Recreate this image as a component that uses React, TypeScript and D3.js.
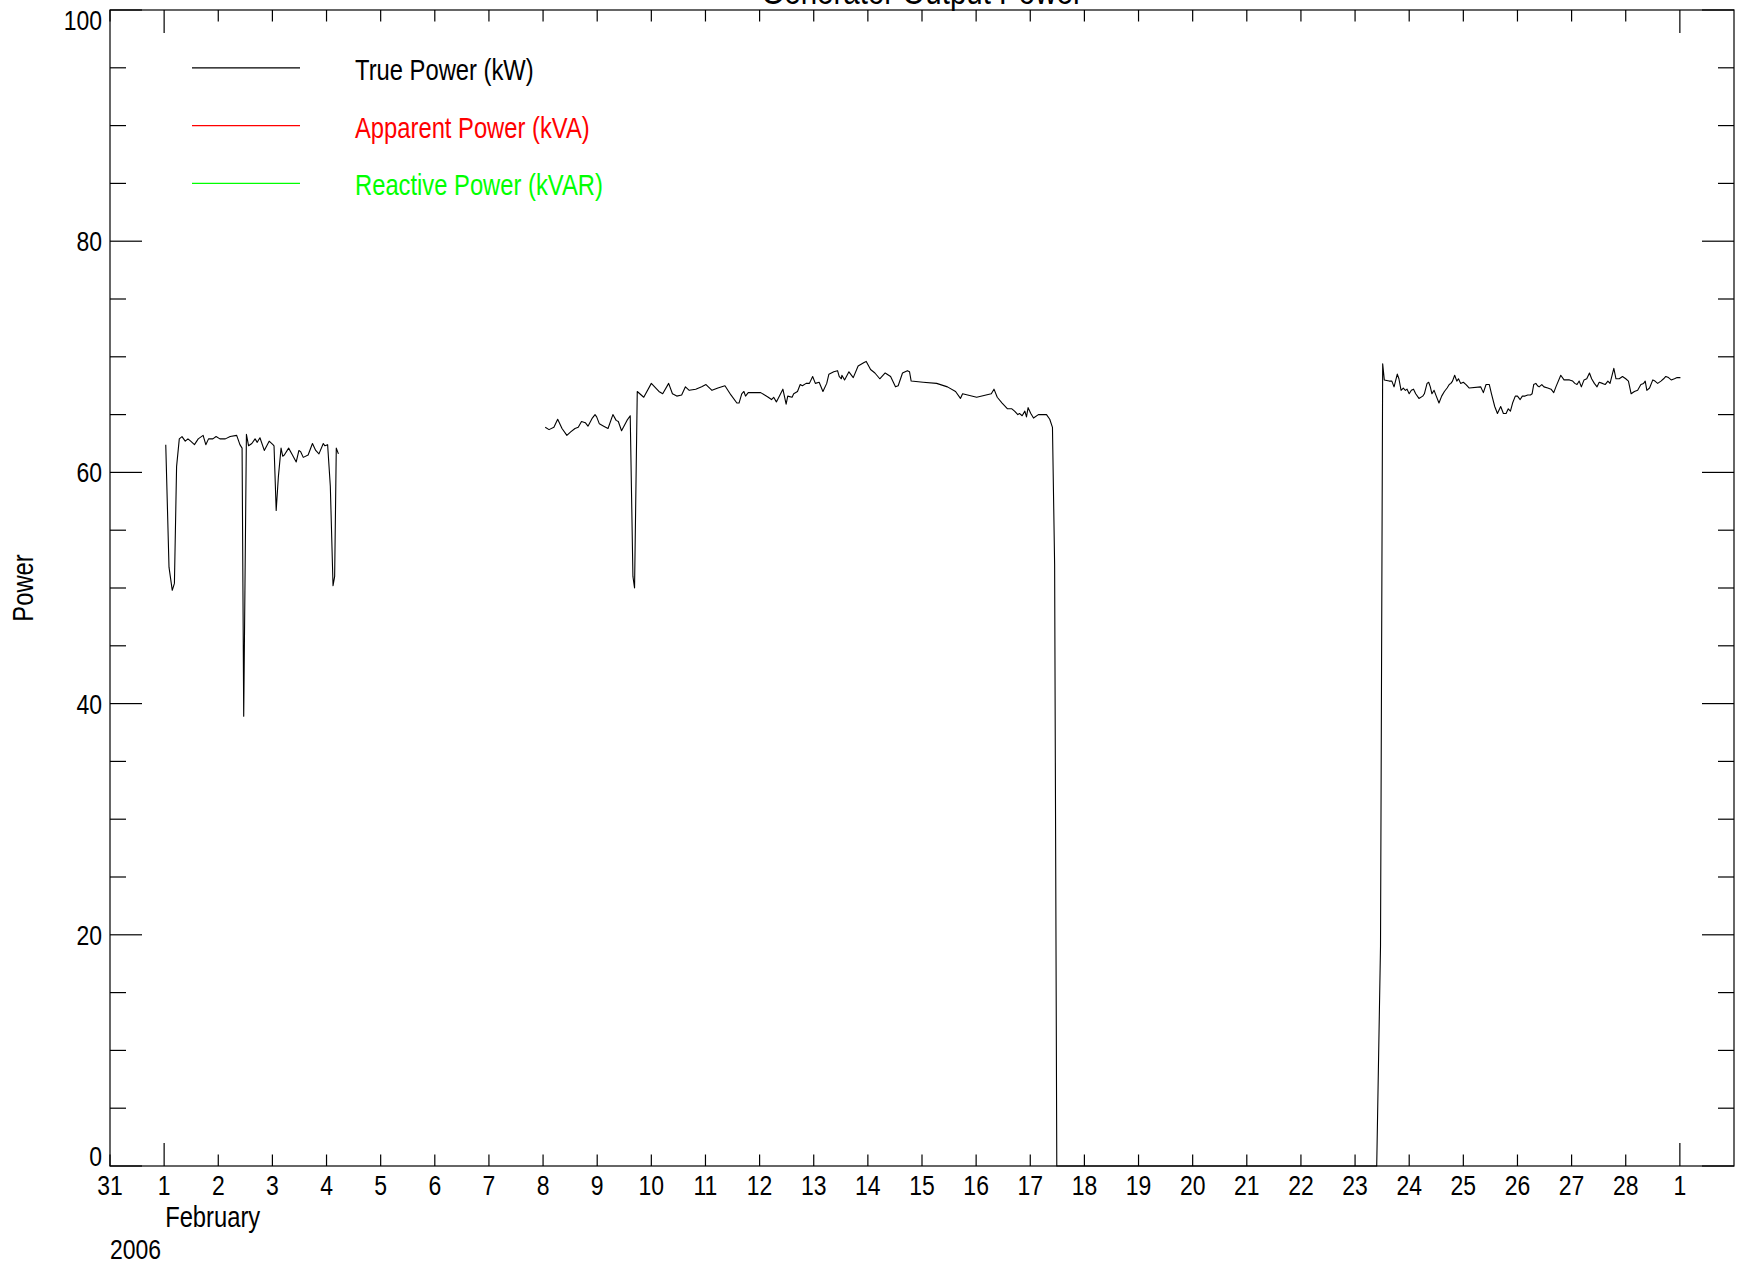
import * as d3 from 'd3';
import type { ReactNode } from 'react';

const WIDTH = 1741;
const HEIGHT = 1270;
// no narrow font installed: Liberation Sans squeezed horizontally stands in for it
const FONT = '"Liberation Sans", Arial, sans-serif';
const NARROW = 0.82;

const TITLE = 'Generator Output Power';
const Y_LABEL = 'Power';
const MONTH_LABEL = 'February';
const YEAR_LABEL = '2006';

const START = Date.UTC(2006, 0, 31);
const END = Date.UTC(2006, 2, 2);
const DAY = 864e5;

// days after 31 Jan 2006 00:00 (UTC); a null value breaks the line (no data)
const trueDays = [
  1.03, 1.09, 1.15, 1.19, 1.23, 1.28, 1.33, 1.39, 1.44, 1.49, 1.56, 1.63, 1.72, 1.77, 1.82, 1.9,
  1.96, 2.03, 2.13, 2.22, 2.34, 2.4, 2.44, 2.47, 2.52, 2.56, 2.62, 2.68, 2.72, 2.77, 2.85, 2.94,
  3.01, 3.03, 3.07, 3.11, 3.16, 3.19, 3.22, 3.3, 3.36, 3.44, 3.49, 3.52, 3.57, 3.66, 3.74, 3.8,
  3.86, 3.94, 3.97, 4.02, 4.07, 4.12, 4.15, 4.18, 4.22,
  6.0,
  8.04, 8.11, 8.2, 8.27, 8.35, 8.44, 8.51, 8.59, 8.65, 8.71, 8.78, 8.83, 8.91, 8.96, 8.99, 9.04,
  9.12, 9.2, 9.29, 9.35, 9.39, 9.45, 9.55, 9.61, 9.66, 9.69, 9.74, 9.86, 10.0, 10.14, 10.21, 10.32,
  10.39, 10.47, 10.56, 10.63, 10.7, 10.82, 10.93, 11.01, 11.12, 11.23, 11.36, 11.47, 11.58, 11.62,
  11.67, 11.71, 11.74, 11.79, 12.02, 12.16, 12.22, 12.26, 12.31, 12.43, 12.49, 12.52, 12.6, 12.63,
  12.7, 12.75, 12.79, 12.86, 12.92, 12.98, 13.03, 13.1, 13.17, 13.24, 13.28, 13.37, 13.44, 13.47,
  13.51, 13.52, 13.57, 13.65, 13.73, 13.82, 13.93, 13.97, 14.05, 14.13, 14.22, 14.32, 14.42, 14.51,
  14.56, 14.64, 14.73, 14.77, 14.8, 15.02, 15.27, 15.47, 15.62, 15.71, 15.75, 16.01, 16.28, 16.33,
  16.39, 16.48, 16.58, 16.66, 16.71, 16.77, 16.8, 16.85, 16.9, 16.93, 16.96, 17.01, 17.06, 17.15,
  17.25, 17.3, 17.36, 17.41, 17.45, 17.49,
  23.4, 23.47, 23.51, 23.54, 23.63, 23.68, 23.72, 23.78, 23.81, 23.85, 23.89, 23.93, 23.96, 24.0,
  24.04, 24.08, 24.12, 24.18, 24.25, 24.28, 24.33, 24.36, 24.39, 24.42, 24.46, 24.5, 24.55, 24.6,
  24.65, 24.7, 24.74, 24.77, 24.8, 24.84, 24.88, 24.91, 24.95, 25.0, 25.05, 25.11, 25.32, 25.37,
  25.42, 25.48, 25.52, 25.58, 25.63, 25.69, 25.74, 25.79, 25.83, 25.87, 25.91, 25.96, 26.0, 26.05,
  26.09, 26.14, 26.19, 26.24, 26.27, 26.3, 26.34, 26.37, 26.4, 26.45, 26.49, 26.56, 26.62, 26.67,
  26.71, 26.8, 26.86, 26.96, 27.02, 27.06, 27.1, 27.14, 27.18, 27.23, 27.28, 27.33, 27.37, 27.42,
  27.47, 27.51, 27.57, 27.62, 27.67, 27.71, 27.78, 27.82, 27.88, 27.94, 28.0, 28.05, 28.1, 28.16,
  28.22, 28.28, 28.33, 28.36, 28.39, 28.44, 28.5, 28.54, 28.59, 28.65, 28.7, 28.74, 28.79, 28.84,
  28.9, 28.95, 29.01,
];

const trueKW: (number | null)[] = [
  62.4, 51.8, 49.8, 50.4, 60.5, 62.9, 63.1, 62.7, 62.9, 62.7, 62.4, 62.9, 63.2, 62.4, 62.9, 62.9,
  63.1, 62.9, 62.9, 63.1, 63.2, 62.4, 62.1, 38.9, 63.3, 62.3, 62.5, 62.9, 62.6, 63.0, 61.9, 62.7,
  62.4, 62.3, 56.7, 59.6, 62.1, 61.4, 61.5, 62.1, 61.6, 60.9, 61.9, 61.8, 61.3, 61.5, 62.5, 61.9,
  61.6, 62.5, 62.3, 62.4, 58.8, 50.2, 51.0, 62.1, 61.6,
  null,
  63.9, 63.7, 63.9, 64.6, 63.8, 63.2, 63.5, 63.8, 63.9, 64.4, 64.3, 64.0, 64.7, 65.0, 64.8, 64.2,
  64.0, 63.8, 65.0, 64.5, 64.4, 63.6, 64.5, 64.9, 51.0, 50.0, 67.0, 66.5, 67.7, 67.0, 66.8, 67.7,
  66.8, 66.6, 66.7, 67.4, 67.1, 67.2, 67.4, 67.6, 67.1, 67.3, 67.5, 66.7, 66.0, 66.0,
  66.8, 67.0, 66.6, 66.9, 66.9, 66.5, 66.3, 66.5, 66.1, 67.2, 65.9, 66.6, 66.5, 66.8,
  67.0, 67.6, 67.5, 67.7, 67.7, 68.3, 67.7, 67.8, 67.0, 67.7, 68.5, 68.7, 68.8, 68.3,
  68.1, 68.4, 68.0, 68.7, 68.2, 69.2, 69.5, 69.6, 68.9, 68.6, 68.1, 68.6, 68.3, 67.4,
  67.5, 68.6, 68.8, 68.7, 67.9, 67.8, 67.7, 67.4, 67.0, 66.4, 66.8, 66.5, 66.8, 67.2,
  66.5, 66.0, 65.5, 65.5, 65.3, 65.0, 65.1, 64.9, 65.3, 64.8, 65.6, 65.1, 64.7, 65.0,
  65.0, 65.0, 64.6, 63.9, 52.0, 0,
  0, 19.0, 69.4, 68.0, 67.9, 67.9, 67.4, 68.5, 68.1, 67.1, 67.3, 67.1, 67.2, 66.8,
  67.1, 67.2, 66.8, 66.4, 66.6, 66.8, 67.7, 67.8, 67.4, 66.8, 67.1, 66.6, 66.0, 66.6,
  67.0, 67.3, 67.6, 67.7, 67.9, 68.4, 67.9, 68.1, 67.7, 67.8, 67.6, 67.3, 67.4, 66.9,
  67.6, 67.6, 66.8, 65.7, 65.1, 65.7, 65.1, 65.1, 65.5, 65.3, 66.0, 66.6, 66.6, 66.3,
  66.6, 66.6, 66.7, 66.7, 66.8, 67.6, 67.7, 67.5, 67.4, 67.6, 67.4, 67.3, 67.2, 66.9,
  67.4, 68.4, 68.0, 68.0, 67.9, 67.7, 67.6, 67.9, 67.4, 68.0, 68.1, 68.6, 68.1, 67.7,
  67.4, 67.8, 67.7, 67.6, 67.9, 67.7, 69.0, 68.1, 68.1, 68.3, 68.1, 67.9, 66.8, 67.0,
  67.1, 67.6, 67.7, 67.9, 67.1, 67.3, 68.0, 67.9, 67.7, 67.9, 68.1, 68.3, 68.2, 68.0,
  68.1, 68.2, 68.2,
];

const legendLabels = ['True Power (kW)', 'Apparent Power (kVA)', 'Reactive Power (kVAR)'];
const legendColors = ['#000000', '#ff0000', '#00ff00'];
const legendLevels = [95, 90, 85];

const yMajorTicks = [0, 20, 40, 60, 80, 100];
const yMinorStep = 5;

const left = 110;
const right = 1734;
const top = 10;
const bottom = 1166;

type TextProps = {
  x: number;
  y: number;
  size: number;
  anchor?: 'start' | 'middle' | 'end';
  fill?: string;
  rotate?: number;
  children: ReactNode;
};

// condensed text: squeeze horizontally around its own anchor point
const Narrow = ({ x, y, size, anchor = 'start', fill = '#000', rotate = 0, children }: TextProps) => (
  <text
    transform={`translate(${x},${y}) rotate(${rotate}) scale(${NARROW},1)`}
    fontSize={size}
    textAnchor={anchor}
    fill={fill}
  >
    {children}
  </text>
);

export default function App() {
  const x = d3.scaleUtc().domain([START, END]).range([left, right]);
  const y = d3.scaleLinear().domain([0, 100]).range([bottom, top]);

  const points = trueDays.map((d, i) => ({ t: new Date(START + d * DAY), v: trueKW[i] }));
  const line = d3
    .line<{ t: Date; v: number | null }>()
    .defined((d) => d.v != null)
    .x((d) => x(d.t))
    .y((d) => y(d.v as number));

  const days = d3.utcDay.range(new Date(START), new Date(END));
  const yTicks = d3.range(0, 100 + 1e-9, yMinorStep);

  const tickLen = (d: Date) => (d.getUTCDate() === 1 ? 23 : 11.5);
  const yLen = (v: number) => (yMajorTicks.includes(v) ? 32 : 16);

  return (
    <svg
      width={WIDTH}
      height={HEIGHT}
      style={{ position: 'absolute', left: 0, top: 0, background: '#fff' }}
      fontFamily={FONT}
    >
      <rect width={WIDTH} height={HEIGHT} fill="#fff" />
      <Narrow x={(left + right) / 2} y={4} size={36} anchor="middle">
        {TITLE}
      </Narrow>

      {/* frame */}
      <rect x={left} y={top} width={right - left} height={bottom - top} fill="none" stroke="#000" strokeWidth={1.2} />

      {/* x ticks, bottom and top */}
      {days.map((d, i) => (
        <g key={i} stroke="#000" strokeWidth={1.2}>
          <line x1={x(d)} x2={x(d)} y1={bottom} y2={bottom - tickLen(d)} />
          <line x1={x(d)} x2={x(d)} y1={top} y2={top + tickLen(d)} />
        </g>
      ))}
      {days.map((d, i) => (
        <Narrow key={i} x={x(d)} y={1195} size={28} anchor="middle">
          {d.getUTCDate()}
        </Narrow>
      ))}
      <Narrow x={x(new Date(Date.UTC(2006, 1, 1))) + 1} y={1227} size={29}>
        {MONTH_LABEL}
      </Narrow>
      <Narrow x={left} y={1259} size={28}>
        {YEAR_LABEL}
      </Narrow>

      {/* y ticks, left and right */}
      {yTicks.map((v, i) => (
        <g key={i} stroke="#000" strokeWidth={1.2}>
          <line x1={left} x2={left + yLen(v)} y1={y(v)} y2={y(v)} />
          <line x1={right} x2={right - yLen(v)} y1={y(v)} y2={y(v)} />
        </g>
      ))}
      {yMajorTicks.map((v, i) => (
        <Narrow
          key={i}
          x={102}
          y={v === 0 ? y(v) : v === 100 ? y(v) + 20 : y(v) + 10}
          size={28}
          anchor="end"
        >
          {v}
        </Narrow>
      ))}
      <Narrow x={33} y={(top + bottom) / 2} size={29} anchor="middle" rotate={-90}>
        {Y_LABEL}
      </Narrow>

      {/* legend */}
      {legendLabels.map((label, i) => (
        <g key={label}>
          <line x1={192} x2={300} y1={y(legendLevels[i])} y2={y(legendLevels[i])} stroke={legendColors[i]} strokeWidth={1.2} />
          <Narrow x={355} y={y(legendLevels[i]) + 12} size={29} fill={legendColors[i]}>
            {label}
          </Narrow>
        </g>
      ))}

      <path d={line(points) ?? ''} fill="none" stroke="#000" strokeWidth={1.1} strokeLinejoin="round" />
    </svg>
  );
}
